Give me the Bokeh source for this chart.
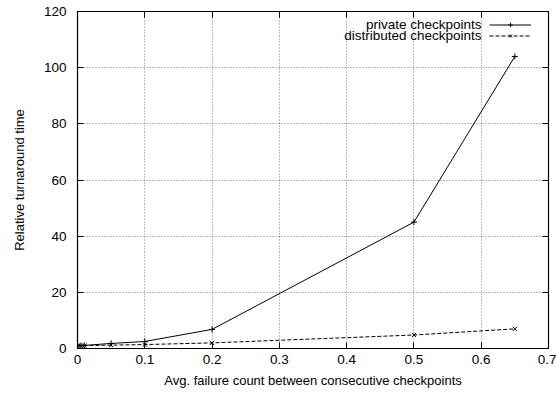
from bokeh.plotting import figure
from bokeh.models import (FixedTicker, LinearAxis, Range1d, Legend, LegendItem, Label,
                          CustomJSTickFormatter)
from bokeh.embed import file_html
from bokeh.resources import INLINE

# Data
x_vals = [0.0, 0.005, 0.01, 0.05, 0.1, 0.2, 0.5, 0.65]
private_vals = [1.0, 1.05, 1.1, 1.8, 2.5, 6.8, 45.0, 104.0]
distributed_vals = [1.0, 1.0, 1.0, 1.2, 1.4, 2.0, 4.8, 7.0]
x_ticks = [0, 0.1, 0.2, 0.3, 0.4, 0.5, 0.6, 0.7]
x_tick_labels = ["0", "0.1", "0.2", "0.3", "0.4", "0.5", "0.6", "0.7"]
y_ticks = [0, 20, 40, 60, 80, 100, 120]
series_names = ["private checkpoints", "distributed checkpoints"]
x_title = "Avg. failure count between consecutive checkpoints"
y_title = "Relative turnaround time"

FONT = "Liberation Sans"

p = figure(width=556, height=394, output_backend="svg", toolbar_location=None,
           x_range=Range1d(0, 0.7), y_range=Range1d(0, 120),
           min_border_left=77, min_border_right=8, min_border_top=11, min_border_bottom=46)
p.outline_line_color = "black"
p.outline_line_width = 1.2
p.background_fill_color = "white"
p.border_fill_color = "white"

# grid
for g in (p.xgrid, p.ygrid):
    g.grid_line_color = "#444444"
    g.grid_line_dash = "1 2"
    g.grid_line_width = 0.7
p.xgrid.ticker = FixedTicker(ticks=x_ticks)
p.ygrid.ticker = FixedTicker(ticks=y_ticks)

def style_axis(ax):
    ax.axis_line_color = None
    ax.major_tick_in = 6
    ax.major_tick_out = 0
    ax.minor_tick_line_color = None
    ax.major_tick_line_color = "black"
    ax.major_label_text_font = FONT
    ax.major_label_text_font_size = "13.5px"
    ax.major_label_text_color = "black"
    ax.axis_label_text_font = FONT
    ax.axis_label_text_font_size = "13px"
    ax.axis_label_text_font_style = "normal"
    ax.axis_label_text_color = "black"

xa = p.xaxis[0]
xa.ticker = FixedTicker(ticks=x_ticks)
xa.major_label_overrides = {t: l for t, l in zip(x_ticks, x_tick_labels)}
xa.axis_label = x_title
xa.major_label_standoff = 6
xa.axis_label_standoff = 6
style_axis(xa)

ya = p.yaxis[0]
ya.ticker = FixedTicker(ticks=y_ticks)
ya.axis_label = y_title
ya.major_label_standoff = 11
ya.axis_label_standoff = 14
style_axis(ya)

blank = CustomJSTickFormatter(code="return '';")
top = LinearAxis(ticker=FixedTicker(ticks=x_ticks), formatter=blank)
style_axis(top)
top.major_label_standoff = 0
p.add_layout(top, "above")
right = LinearAxis(ticker=FixedTicker(ticks=y_ticks), formatter=blank)
style_axis(right)
right.major_label_standoff = 0
p.add_layout(right, "right")

# series
l1 = p.line(x_vals, private_vals, line_color="black", line_width=1)
m1 = p.scatter(x_vals, private_vals, marker="cross", size=6, line_color="black", line_width=1)
l2 = p.line(x_vals, distributed_vals, line_color="black", line_width=1, line_dash="4 2")
m2 = p.scatter(x_vals, distributed_vals, marker="x", size=6, line_color="black", line_width=1)

# legend (gnuplot style: text right-aligned, sample on right)
leg = Legend(items=[LegendItem(label="", renderers=[l1, m1]),
                    LegendItem(label="", renderers=[l2, m2])],
             location=(412, 307), glyph_width=42, glyph_height=11,
             label_text_font_size="13px", spacing=0, padding=0, margin=0,
             label_standoff=0, label_width=0, label_height=11,
             background_fill_alpha=0, border_line_color=None)
p.add_layout(leg, "center")
for i, name in enumerate(series_names):
    p.add_layout(Label(x=404, y=324 - 11 * i, x_units="screen", y_units="screen",
                       text=name, text_align="right", text_baseline="middle",
                       text_font=FONT, text_font_size="13.5px", text_color="black"))

open("out.html", "w").write(file_html(p, INLINE))
